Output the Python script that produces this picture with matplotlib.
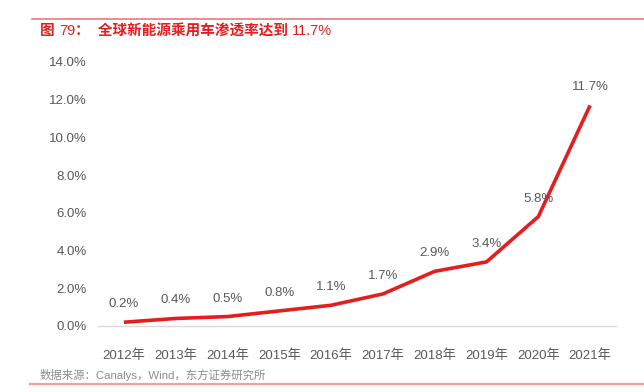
import matplotlib.pyplot as plt
from matplotlib.lines import Line2D

# Latin glyphs in an Arial-like face, Chinese falls back to Noto CJK
plt.rcParams['font.family'] = ['Liberation Sans', 'Noto Sans CJK SC', 'DejaVu Sans']

# data
years = ['2012年', '2013年', '2014年', '2015年', '2016年',
         '2017年', '2018年', '2019年', '2020年', '2021年']
share = [0.2, 0.4, 0.5, 0.8, 1.1, 1.7, 2.9, 3.4, 5.8, 11.7]
yticks = [0, 2, 4, 6, 8, 10, 12, 14]

red = '#E41E1E'
gray = '#595959'

fig = plt.figure(figsize=(6.44, 3.92), dpi=100)
ax = fig.add_axes([98/644, 1-326/392, (616-98)/644, (326-62)/392])

x = range(len(years))
ax.plot(x, share, color=red, lw=2.6, solid_capstyle='butt')

for i, v in zip(x, share):
    ax.annotate(f'{v:.1f}%', (i, v), xytext=(0, 13), textcoords='offset points',
                ha='center', va='center', fontsize=9.5, color=gray)

ax.set_xlim(-0.5, len(years) - 0.5)
ax.set_ylim(0, 14)
ax.set_xticks(list(x))
ax.set_xticklabels(years)
ax.set_yticks(yticks)
ax.set_yticklabels([f'{t:.1f}%' for t in yticks])
ax.tick_params(axis='x', length=0, pad=17, labelsize=9.5, labelcolor=gray)
ax.tick_params(axis='y', length=0, pad=8, labelsize=9.5, labelcolor=gray)

for s in ['top', 'right', 'left']:
    ax.spines[s].set_visible(False)
ax.spines['bottom'].set_color('#D9D9D9')
ax.spines['bottom'].set_linewidth(1.0)

# title: chinese in bold, numbers regular, pieces laid out one after another
pieces = [('图 ', 'bold'), ('79', 'normal'), ('：  全球新能源乘用车渗透率达到 ', 'bold'),
          ('11.7%', 'normal')]
renderer = fig.canvas.get_renderer()
xpos = 40
for s, w in pieces:
    t = fig.text(xpos/644, 1-31/392, s, color=red, fontsize=10.5, fontweight=w,
                 va='center', ha='left')
    xpos += t.get_window_extent(renderer).width

fig.text(40/644, 1-375/392, '数据来源：Canalys，Wind，东方证券研究所',
         color='#8C8C8C', fontsize=8.2, va='center', ha='left')
fig.add_artist(Line2D([32/644, 1], [1-19/392, 1-19/392], color='#E67C7C', lw=1.2,
                      transform=fig.transFigure))
fig.add_artist(Line2D([30/644, 1], [1-384/392, 1-384/392], color='#F4A0A0', lw=1.6,
                      transform=fig.transFigure))

fig.savefig('out.png', dpi=100)
